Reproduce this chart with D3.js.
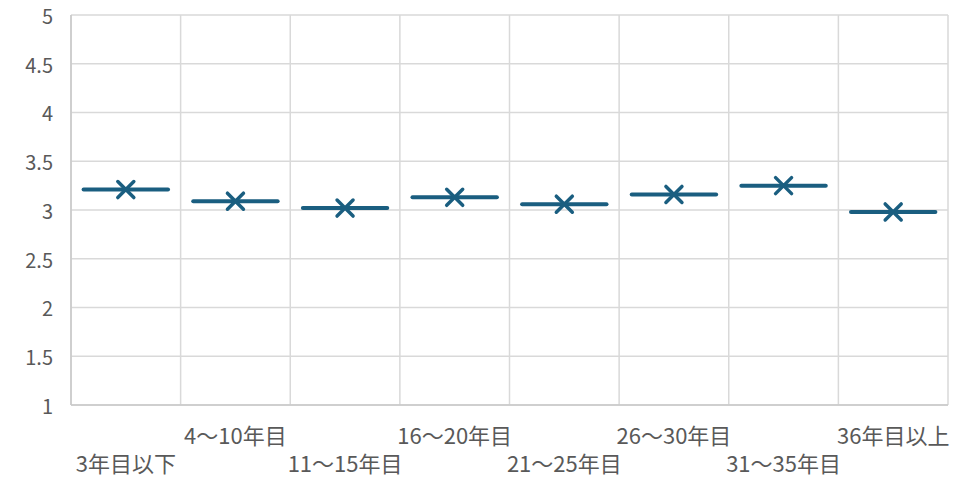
<!DOCTYPE html>
<html>
<head>
<meta charset="utf-8">
<script src="https://cdn.jsdelivr.net/npm/d3@7"></script>
<style>
  html, body { margin: 0; padding: 0; background: #fff; }
  svg { display: block; }
  text { font-family: "Noto Sans CJK JP", "Noto Sans", sans-serif; fill: #595959; }
</style>
</head>
<body>
<svg id="chart" width="975" height="480"></svg>
<script>
// Categories (years of service) and the mean score for each
const categories = ["3年目以下", "4〜10年目", "11〜15年目", "16〜20年目", "21〜25年目", "26〜30年目", "31〜35年目", "36年目以上"];
const values = [3.21, 3.09, 3.02, 3.13, 3.06, 3.16, 3.25, 2.98];
const yTicks = [1, 1.5, 2, 2.5, 3, 3.5, 4, 4.5, 5];

const W = 975, H = 480;
const margin = { top: 15, right: 27, bottom: 75, left: 71 };
const svg = d3.select("#chart");

const x = d3.scaleBand()
  .domain(categories)
  .range([margin.left, W - margin.right])
  .padding(0);

const y = d3.scaleLinear()
  .domain([1, 5])
  .range([H - margin.bottom, margin.top]);

const gridColor = "#d9d9d9";
const markColor = "#1a5e80";

// horizontal gridlines
svg.append("g")
  .selectAll("line")
  .data(yTicks)
  .join("line")
  .attr("x1", margin.left)
  .attr("x2", W - margin.right)
  .attr("y1", d => y(d))
  .attr("y2", d => y(d))
  .attr("stroke", gridColor)
  .attr("stroke-width", 1.5);

// vertical gridlines at category boundaries
const bounds = categories.map(c => x(c)).concat([x(categories[categories.length - 1]) + x.bandwidth()]);
svg.append("g")
  .selectAll("line")
  .data(bounds)
  .join("line")
  .attr("x1", d => d)
  .attr("x2", d => d)
  .attr("y1", y(5))
  .attr("y2", y(1))
  .attr("stroke", gridColor)
  .attr("stroke-width", 1.5);

// axis lines
svg.append("line")
  .attr("x1", margin.left).attr("x2", margin.left)
  .attr("y1", y(5)).attr("y2", y(1))
  .attr("stroke", "#c8c8c8").attr("stroke-width", 1.5);
svg.append("line")
  .attr("x1", margin.left).attr("x2", W - margin.right)
  .attr("y1", y(1)).attr("y2", y(1))
  .attr("stroke", "#c8c8c8").attr("stroke-width", 1.5);

// y axis labels
const yAxis = d3.axisLeft(y).tickValues(yTicks).tickSize(0).tickPadding(18).tickFormat(d3.format("~g"));
const gy = svg.append("g").attr("transform", `translate(${margin.left},0)`).call(yAxis);
gy.select(".domain").remove();
gy.selectAll("text")
  .attr("font-size", 20)
  .attr("dy", "0.42em")
  .attr("font-family", "'Noto Sans', sans-serif")
  .attr("fill", "#595959");

// x axis labels, staggered in two rows
svg.append("g")
  .selectAll("text")
  .data(categories)
  .join("text")
  .attr("x", d => x(d) + x.bandwidth() / 2)
  .attr("y", (d, i) => i % 2 === 0 ? 464 : 436)
  .attr("dy", "0.35em")
  .attr("text-anchor", "middle")
  .attr("font-size", 22)
  .text(d => d);

// marks: a horizontal bar for each mean plus an x marker
const halfLen = x.bandwidth() * 0.385;
const marks = svg.append("g")
  .selectAll("g")
  .data(categories.map((c, i) => ({ c, v: values[i] })))
  .join("g")
  .attr("transform", d => `translate(${x(d.c) + x.bandwidth() / 2},${y(d.v)})`);

marks.append("line")
  .attr("x1", -halfLen).attr("x2", halfLen)
  .attr("y1", 0).attr("y2", 0)
  .attr("stroke", markColor)
  .attr("stroke-width", 4)
  .attr("stroke-linecap", "round");

const s = 8;
marks.append("path")
  .attr("d", `M${-s},${-s}L${s},${s}M${-s},${s}L${s},${-s}`)
  .attr("stroke", markColor)
  .attr("stroke-width", 3.5)
  .attr("stroke-linecap", "round")
  .attr("fill", "none");
</script>
</body>
</html>
